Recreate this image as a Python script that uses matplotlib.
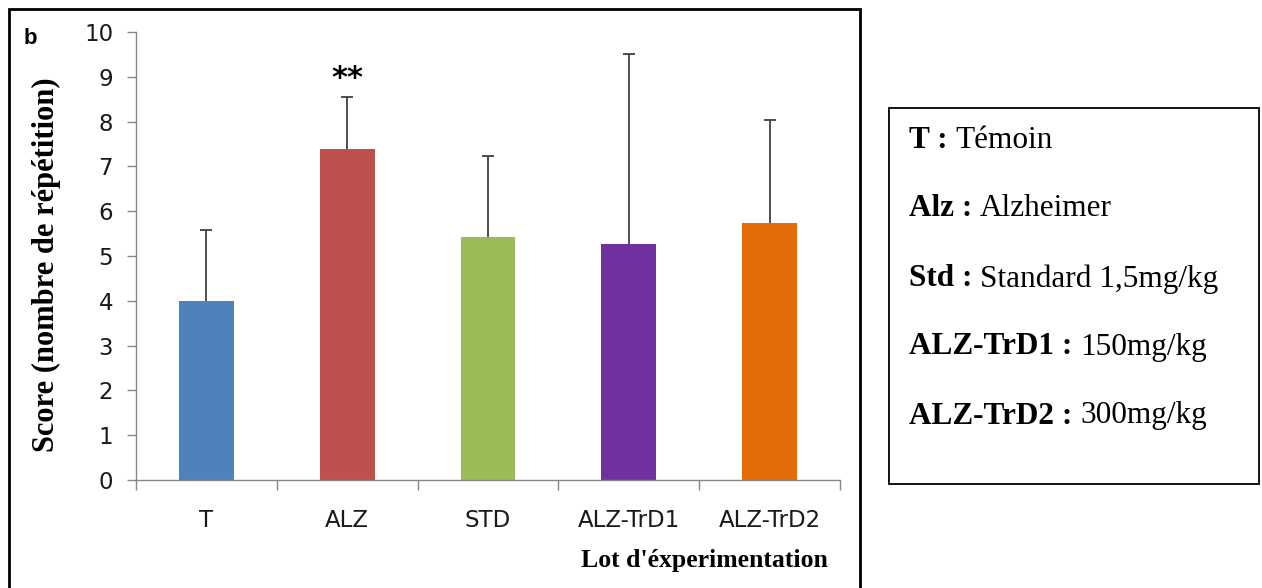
import matplotlib
matplotlib.use("Agg")
import matplotlib.pyplot as plt
from matplotlib.patches import Rectangle
import numpy as np

# data
groups = ["T", "ALZ", "STD", "ALZ-TrD1", "ALZ-TrD2"]
scores = [4.0, 7.39, 5.42, 5.26, 5.74]
errors = [1.59, 1.16, 1.82, 4.26, 2.30]
colors = ["#4f81bd", "#c0504d", "#9bbb59", "#7030a0", "#e36c09"]
legend_keys = ["T :", "Alz :", "Std :", "ALZ-TrD1 :", "ALZ-TrD2 :"]
legend_vals = ["Témoin", "Alzheimer", "Standard 1,5mg/kg", "150mg/kg", "300mg/kg"]

W, H = 1262, 588
fig = plt.figure(figsize=(W / 100, H / 100), dpi=100)
ax = fig.add_axes([136 / W, 1 - 480 / H, (840 - 136) / W, (480 - 32) / H])

x = np.arange(len(groups))
ax.bar(x, scores, width=0.39, color=colors, zorder=2)
eb = ax.errorbar(x, scores, yerr=[np.zeros(len(errors)), errors], fmt="none",
                 ecolor="#404040", elinewidth=1.3, capsize=4, capthick=1.3, zorder=3)
eb[1][0].set_visible(False)  # no cap at the bar top

ax.set_xlim(-0.5, len(groups) - 0.5)
ax.set_ylim(0, 10)
ax.set_yticks(range(0, 11))
ax.set_xticks(x)
ax.set_xticklabels(groups)
ax.set_xticks(np.arange(-0.5, len(groups), 1), minor=True)
ax.tick_params(axis="x", which="major", length=0, pad=21)
ax.tick_params(axis="x", which="minor", length=7, width=1, color="#868686")
ax.tick_params(axis="y", length=6.5, width=1, color="#868686", pad=10)
for lab in ax.get_xticklabels() + ax.get_yticklabels():
    lab.set_fontsize(16.5)
    lab.set_color("#1a1a1a")
for s in ["top", "right"]:
    ax.spines[s].set_visible(False)
for s in ["left", "bottom"]:
    ax.spines[s].set_color("#868686")
    ax.spines[s].set_linewidth(1)

# significance mark
ax.text(x[1], scores[1] + errors[1] + 0.42, "**", ha="center", va="center",
        fontsize=22, fontweight="bold", family="DejaVu Sans")

fig.text(46 / W, 1 - 265 / H, "Score (nombre de répétition)", rotation=90,
         ha="center", va="center", fontsize=22, fontweight="bold",
         family="Liberation Serif")
fig.text(828 / W, 1 - 560 / H, "Lot d'éxperimentation", ha="right", va="center",
         fontsize=18.5, fontweight="bold", family="Liberation Serif")
fig.text(24 / W, 1 - 38 / H, "b", ha="left", va="center", fontsize=16,
         fontweight="bold", family="Liberation Sans")

# outer frame of the chart
fig.patches.append(Rectangle((9 / W, -0.01), (860 - 9) / W, 1 - 9 / H + 0.01,
                             transform=fig.transFigure, fill=False,
                             edgecolor="black", linewidth=2))

# legend box
fig.patches.append(Rectangle((889 / W, 1 - 484 / H), (1259 - 889) / W, (484 - 108) / H,
                             transform=fig.transFigure, fill=False,
                             edgecolor="black", linewidth=1.3))
ys = [140, 209, 279, 347, 416]
for key, val, yy in zip(legend_keys, legend_vals, ys):
    t = fig.text(909 / W, 1 - yy / H, key + " ", ha="left", va="center",
                 fontsize=22.5, fontweight="bold", family="Liberation Serif")
    fig.canvas.draw()
    bb = t.get_window_extent()
    fig.text(bb.x1 / W, 1 - yy / H, val, ha="left", va="center",
             fontsize=22.5, family="Liberation Serif")

fig.savefig("out.png", dpi=100)
